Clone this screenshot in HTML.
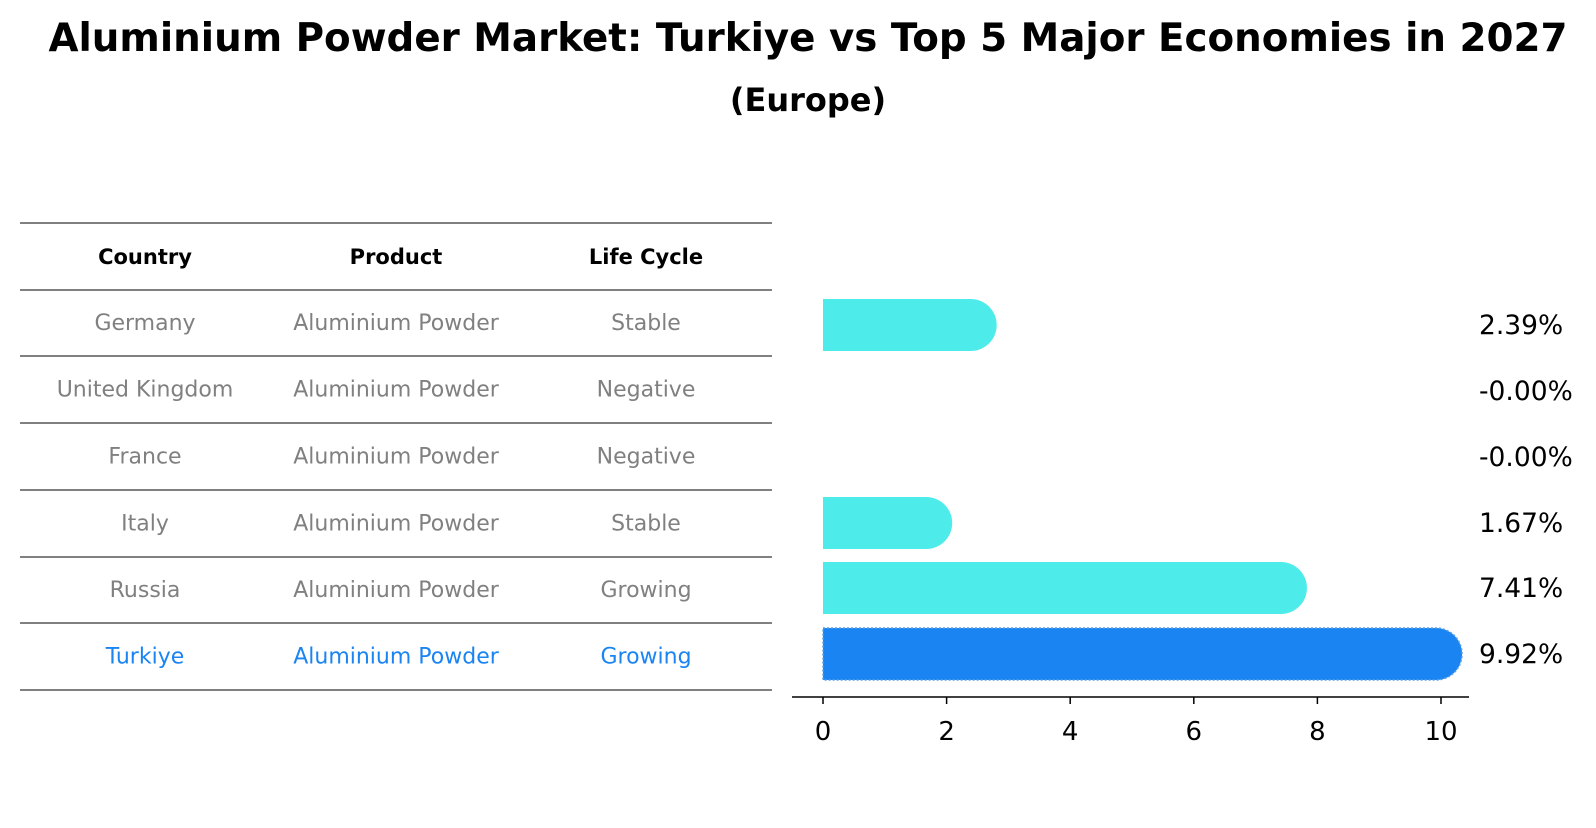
<!DOCTYPE html>
<html><head><meta charset="utf-8"><style>
body{margin:0;background:#fff;width:1596px;height:823px;overflow:hidden}
text{font-family:"DejaVu Sans","Liberation Sans",sans-serif}
</style></head><body>
<svg width="1596" height="823">
<text x="808" y="51" text-anchor="middle" font-size="38.8" font-weight="bold">Aluminium Powder Market: Turkiye vs Top 5 Major Economies in 2027</text>
<text x="808" y="111" text-anchor="middle" font-size="32" font-weight="bold">(Europe)</text>
<g id="table"></g>
<g id="bars"></g>
</svg>
<script>
const countries=["Germany","United Kingdom","France","Italy","Russia","Turkiye"];
const products=["Aluminium Powder","Aluminium Powder","Aluminium Powder","Aluminium Powder","Aluminium Powder","Aluminium Powder"];
const lifecycle=["Stable","Negative","Negative","Stable","Growing","Growing"];
const values=[2.39,-0.00,-0.00,1.67,7.41,9.92];
const labels=["2.39%","-0.00%","-0.00%","1.67%","7.41%","9.92%"];
const ticks=[0,2,4,6,8,10];
const NS="http://www.w3.org/2000/svg";
function mk(t,a,p){const e=document.createElementNS(NS,t);for(const k in a)e.setAttribute(k,a[k]);p.appendChild(e);return e;}
const tb=document.getElementById('table');
const lines=[223,290,356,423,490,557,623,690];
lines.forEach((y,i)=>{const l=mk('line',{x1:20,x2:772,y1:y,y2:y,stroke:'#000','stroke-width':1},tb);

});
const cx=[145,396,646];
const hdr=["Country","Product","Life Cycle"];
hdr.forEach((h,i)=>{const t=mk('text',{x:cx[i],y:264,'text-anchor':'middle','font-size':21,'font-weight':'bold'},tb);t.textContent=h;

});
countries.forEach((c,r)=>{const y=(lines[r+1]+lines[r+2])/2+7;const col=c==="Turkiye"?"#1a84f2":"#808080";
[c,products[r],lifecycle[r]].forEach((v,i)=>{const t=mk('text',{x:cx[i],y:y,'text-anchor':'middle','font-size':22,fill:col},tb);t.textContent=v;

});});
const bg=document.getElementById('bars');
const x0=823,x10=1441;const xs=v=>x0+(x10-x0)*v/10;
const rowY=[325,391,457,523,588,654];const hh=26;
values.forEach((v,i)=>{const y=rowY[i];const tk=countries[i]==="Turkiye";const col=tk?"#1a84f2":"#4deceb";
if(v>0){const w=xs(v)-x0;
const p=mk('path',{d:`M${x0},${y-hh}h${w}a${hh},${hh} 0 0 1 0,${2*hh}h${-w}z`,fill:col},bg);
if(tk){p.setAttribute('stroke','#5aa0e8');p.setAttribute('stroke-dasharray','2,2');p.setAttribute('stroke-width','1.5');}

}
const t=mk('text',{x:1479,y:y+9,'font-size':26.5},bg);t.textContent=labels[i];

});
const ax=mk('line',{x1:792,x2:1469,y1:697,y2:697,stroke:'#000','stroke-width':1.5},bg);


ticks.forEach(v=>{const x=xs(v);mk('line',{x1:x,x2:x,y1:697,y2:704,stroke:'#000','stroke-width':1.5},bg);
const t=mk('text',{x:x,y:740,'text-anchor':'middle','font-size':26},bg);t.textContent=v;

});
</script>
</body></html>
